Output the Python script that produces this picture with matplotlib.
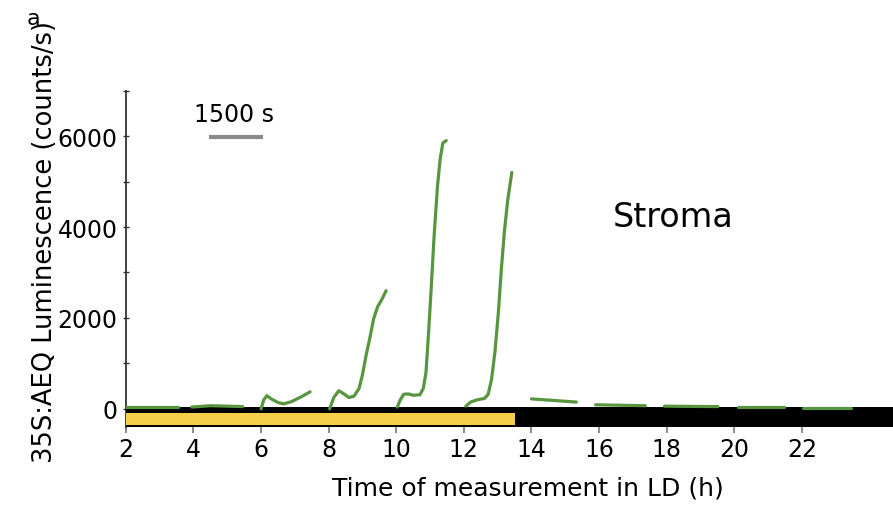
import numpy as np
import matplotlib
matplotlib.use("Agg")
import matplotlib.pyplot as plt
from matplotlib.patches import Rectangle

# luminescence readings per measurement window (hours, counts/s)
t1 = [2.0, 3.55]
c1 = [40, 40]
t2 = [3.95, 4.5, 5.0, 5.45]
c2 = [40, 70, 60, 50]
t3 = [6.0, 6.08, 6.17, 6.3, 6.5, 6.67, 6.9, 7.2, 7.45]
c3 = [0, 200, 290, 220, 140, 110, 160, 270, 375]
t4 = [8.03, 8.15, 8.3, 8.45, 8.6, 8.75, 8.9, 9.0, 9.1, 9.23, 9.33, 9.45, 9.57, 9.7]
c4 = [0, 250, 400, 330, 250, 280, 450, 750, 1150, 1600, 1980, 2250, 2400, 2600]
t5 = [10.03, 10.12, 10.22, 10.35, 10.5, 10.7, 10.8, 10.88, 10.95, 11.03, 11.12, 11.22, 11.3, 11.38, 11.48]
c5 = [40, 200, 320, 330, 300, 310, 450, 800, 1600, 2600, 3800, 4900, 5500, 5850, 5900]
t6 = [12.06, 12.2, 12.4, 12.61, 12.72, 12.82, 12.92, 13.02, 13.11, 13.2, 13.3, 13.42]
c6 = [60, 150, 200, 230, 320, 650, 1250, 2100, 3070, 3900, 4600, 5200]
t7 = [14.0, 15.33]
c7 = [220, 150]
t8 = [15.9, 17.37]
c8 = [90, 70]
t9 = [17.94, 19.52]
c9 = [60, 50]
t10 = [20.1, 21.46]
c10 = [40, 40]
t11 = [22.03, 23.45]
c11 = [30, 30]
segments = [(t1, c1), (t2, c2), (t3, c3), (t4, c4), (t5, c5), (t6, c6),
            (t7, c7), (t8, c8), (t9, c9), (t10, c10), (t11, c11)]

light_on = 2.0
light_off = 13.5
x_end = 24.7

xticks = [2, 4, 6, 8, 10, 12, 14, 16, 18, 20, 22]
yticks = [0, 2000, 4000, 6000]
yminor = [1000, 3000, 5000, 7000]

fig = plt.figure(figsize=(8.93, 5.06), dpi=100)
ax = fig.add_axes([0.141, 0.154, 0.859, 0.665])

for tx, cy in segments:
    ax.plot(tx, cy, color='#58953f', lw=2.3, solid_capstyle='round',
            solid_joinstyle='round', zorder=5)

# light / dark bar under the x axis
ax.add_patch(Rectangle((light_on, -400), x_end - light_on, 440,
                       facecolor='black', edgecolor='none', zorder=3))
ax.add_patch(Rectangle((light_on, -350), light_off - light_on, 270,
                       facecolor='#f5cf4a', edgecolor='none', zorder=4))

# scale bar
ax.plot([4.45, 6.05], [5980, 5980], color='#8a8a8a', lw=3, solid_capstyle='butt')
ax.text(5.2, 6480, '1500 s', fontsize=17, ha='center', va='center')
ax.text(18.2, 4240, 'Stroma', fontsize=24, ha='center', va='center')

ax.set_xlim(2, x_end)
ax.set_ylim(-400, 7000)
ax.set_xticks(xticks)
ax.set_yticks(yticks)
ax.set_yticks(yminor, minor=True)
ax.tick_params(axis='y', which='both', direction='inout', length=4, width=1,
               color='#333333', labelsize=17, pad=4)
ax.tick_params(axis='x', direction='out', length=4, width=1.2,
               color='#777777', labelsize=17, pad=3)

for s in ['top', 'right', 'bottom']:
    ax.spines[s].set_visible(False)
ax.spines['left'].set_color('#333333')
ax.spines['left'].set_linewidth(1.3)

ax.set_xlabel('Time of measurement in LD (h)', fontsize=18)
ax.xaxis.set_label_coords(0.524, -0.145)
ax.set_ylabel('35S:AEQ Luminescence (counts/s)', fontsize=18.5)
ax.yaxis.set_label_coords(-0.089, 0.553)

fig.text(0.037, 0.962, 'a', fontsize=16, ha='center', va='center')

fig.savefig('out.png', dpi=100)
